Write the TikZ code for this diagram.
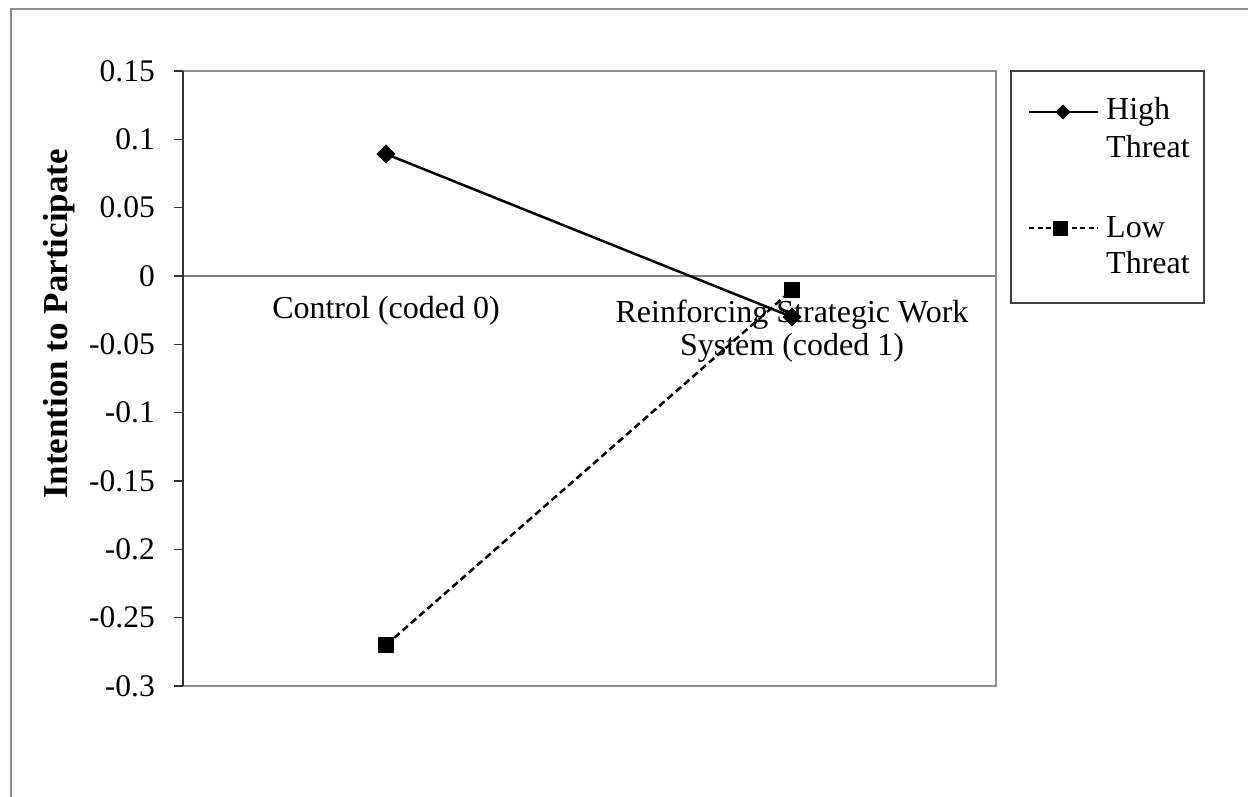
\documentclass[tikz,border=0pt]{standalone}
\usepackage{fontspec}
\setmainfont{Liberation Serif}
\usetikzlibrary{shapes.geometric}
\begin{document}
\begin{tikzpicture}[x=1pt,y=-1pt,
  outerframe/.style={draw=black!45, line width=2pt},
  plotframe/.style={draw=black!45, line width=2.5pt},
  axisline/.style={draw=black!80, line width=1.5pt},
  zeroline/.style={draw=black!50, line width=2pt},
  ticklab/.style={anchor=east, inner sep=0pt, font=\fontsize{31.5}{36}\selectfont},
  catlab/.style={anchor=base, inner sep=0pt, font=\fontsize{32}{36}\selectfont},
  legtext/.style={anchor=base west, inner sep=0pt, font=\fontsize{32}{36}\selectfont},
  ytitle/.style={rotate=90, inner sep=0pt, font=\fontsize{35}{40}\selectfont\bfseries},
  dmark/.style={diamond, fill=black, inner sep=0pt, minimum size=19pt},
  smark/.style={rectangle, fill=black, inner sep=0pt, minimum size=16pt},
  ldmark/.style={diamond, fill=black, inner sep=0pt, minimum size=15pt},
  lsmark/.style={rectangle, fill=black, inner sep=0pt, minimum size=15pt},
  highline/.style={draw=black, line width=2.5pt},
  lowline/.style={draw=black, line width=2.5pt, dash pattern=on 7pt off 4pt},
]
\useasboundingbox (0,0) rectangle (1248,797);

% outer chart frame
\draw[outerframe] (11,800) -- (11,9) -- (1252,9);

% plot area
\draw[plotframe] (183,71) -- (996,71) -- (996,686) -- (183,686);
\draw[zeroline] (183,276) -- (996,276);
\draw[axisline] (183,71) -- (183,686);
\foreach \v/\lab in {0.15/0.15, 0.1/0.1, 0.05/0.05, 0/0, -0.05/-0.05, -0.1/-0.1, -0.15/-0.15, -0.2/-0.2, -0.25/-0.25, -0.3/-0.3}{
  \pgfmathsetmacro{\yy}{276-\v*1366.67}
  \draw[axisline] (174,\yy) -- (183,\yy);
  \node[ticklab] at (155,\yy) {\lab};
}

% axis title
\node[ytitle] (ytitle) at (59,324) {Intention to Participate};

% category labels
\node[catlab] (cat0) at (386,318) {Control (coded 0)};
\node[catlab] (cat1a) at (792,322) {Reinforcing Strategic Work};
\node[catlab] (cat1b) at (792,355) {System (coded 1)};

% data series
\node[dmark] (h0) at (386,154) {};
\node[dmark] (h1) at (792,317) {};
\node[smark] (l0) at (386,645) {};
\node[smark] (l1) at (792,290) {};
\draw[highline] (h0.center) -- (h1.center);
\draw[lowline] (l0.center) -- (l1.center);
\node[dmark] at (h0) {};
\node[dmark] at (h1) {};
\node[smark] at (l0) {};
\node[smark] at (l1) {};

% legend
\draw[draw=black!75, line width=1.5pt] (1011,71) rectangle (1204,303);
\coordinate (hA) at (1029,112);
\coordinate (hB) at (1098,112);
\node[ldmark] (hm) at (1063,112) {};
\draw[highline] (hA) -- (hB);
\node[ldmark] at (hm) {};
\node[legtext] (hT1) at (1106,120) {High};
\node[legtext] (hT2) at (1106,158) {Threat};
\coordinate (lA) at (1029,228);
\coordinate (lB) at (1098,228);
\node[lsmark] (lm) at (1060,228) {};
\draw[lowline, line width=2pt, dash pattern=on 5pt off 3.5pt] (lA) -- (lB);
\node[lsmark] at (lm) {};
\node[legtext] (lT1) at (1106,237) {Low};
\node[legtext] (lT2) at (1106,273) {Threat};
\end{tikzpicture}
\end{document}
